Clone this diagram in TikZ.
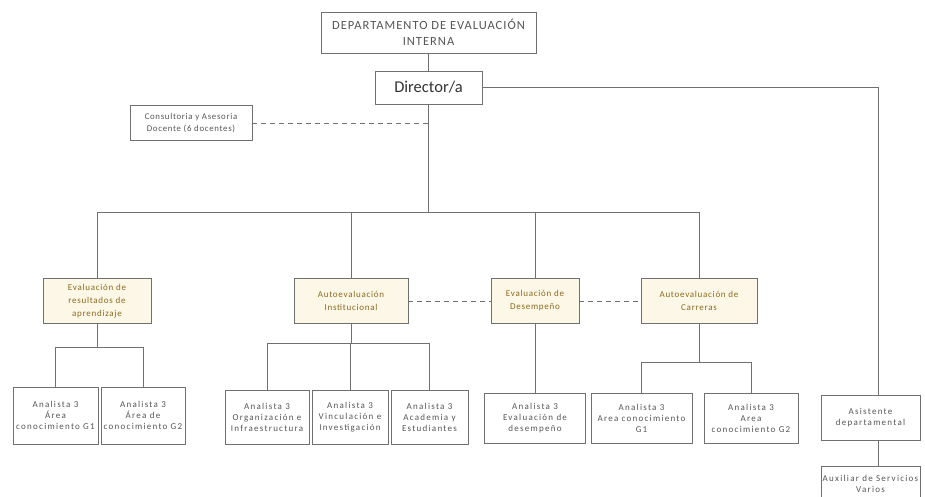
\documentclass[tikz,border=0pt]{standalone}
\usepackage{fontspec}
\setmainfont{Carlito}
\newfontfamily\scanfont[LetterSpace=8]{Carlito}
\newfontfamily\widefont[LetterSpace=14]{Carlito}
\usetikzlibrary{positioning}
\definecolor{linegray}{HTML}{707070}
\definecolor{boxtext}{HTML}{555555}
\definecolor{cream}{HTML}{FCF7E6}
\definecolor{unitbrown}{HTML}{8C6A1C}
\tikzstyle{box}=[rectangle,draw=linegray,line width=0.8pt,align=center,inner sep=1pt,text=boxtext,font=\widefont\fontsize{9}{11}\selectfont]
\tikzstyle{unitbox}=[box,fill=cream,text=unitbrown,minimum height=45,font=\scanfont\fontsize{9}{13}\selectfont]
\tikzstyle{edge} = [draw=linegray,line width=0.8pt]
\tikzstyle{dashededge} = [edge,dash pattern=on 5pt off 4pt]

\begin{document}
\begin{tikzpicture}[x=1pt,y=-1pt]
    \useasboundingbox (0,0) rectangle (925,497);

    \node[box,minimum width=215,minimum height=41,font=\scanfont\fontsize{12.5}{15.5}\selectfont] (dept) at (428.5,32.5) {DEPARTAMENTO DE EVALUACIÓN\\INTERNA};
    \node[box,minimum width=107,minimum height=33,text=black!80,font=\fontsize{16.5}{19}\selectfont] (director) at (428.5,87.5) {Director/a};
    \node[box,minimum width=122,minimum height=35,font=\scanfont\fontsize{8.8}{11.5}\selectfont] (consult) at (191,123) {Consultoria y Asesoria\\Docente (6 docentes)};

    \foreach \pos/\name/\w/\txt in {{(97,301)/evres/108/Evaluación de\\resultados de\\aprendizaje}, {(351,301)/autoinst/114/Autoevaluación\\Institucional}, {(535,301)/evdes/88/Evaluación de\\Desempeño}, {(699,301)/autocar/116/Autoevaluación de\\Carreras}}
        \node[unitbox,minimum width=\w] (\name) at \pos {\txt};

    \foreach \pos/\name/\w/\h/\txt in {{(55.5,415.5)/b1/85/57/Analista 3\\Área\\conocimiento G1}, {(143,415.5)/b2/84/57/Analista 3\\Área de\\conocimiento G2}, {(267,417)/c1/84/54/Analista 3\\Organización e\\Infraestructura}, {(350,417)/c2/76/54/Analista 3\\Vinculación e\\Investigación}, {(429.5,417)/c3/77/54/Analista 3\\Academia y\\Estudiantes}, {(535,418)/d1/101/50/Analista 3\\Evaluación de\\desempeño}, {(641.5,418)/f1/101/50/Analista 3\\Area conocimiento\\G1}, {(751,418)/f2/94/50/Analista 3\\Area\\conocimiento G2}, {(870.5,417.5)/asist/99/45/Asistente\\departamental}, {(870.5,484)/aux/99/36/Auxiliar de Servicios\\Varios}}
        \node[box,minimum width=\w,minimum height=\h] (\name) at \pos {\txt};

    \coordinate (mainbus) at (428.5,212);
    \coordinate (evresbus) at (97,347);
    \coordinate (autoinstbus) at (351,343);
    \coordinate (autocarbus) at (699,362);

    \path[edge] (dept) -- (director);
    \path[edge] (director) -- (mainbus);
    \path[dashededge] (consult) -- (consult -| director);
    \path[edge] (director) -| ([xshift=7.5]asist.north);
    \path[edge] ([xshift=7.5]asist.south) -- ([xshift=7.5]aux.north);

    \foreach \dest in {evres,autoinst,evdes,autocar}
        \path[edge] (mainbus) -| (\dest);

    \foreach \source/ \dest in {autoinst/evdes, evdes/autocar}
        \path[dashededge] (\source) -- (\dest);

    \foreach \source/ \bus in {evres/evresbus, autoinst/autoinstbus, autocar/autocarbus}
        \path[edge] (\source) -- (\bus);

    \foreach \bus/ \dest in {evresbus/b1, evresbus/b2, autoinstbus/c1, autoinstbus/c2, autoinstbus/c3, autocarbus/f1, autocarbus/f2}
        \path[edge] (\bus) -| (\dest);

    \path[edge] (evdes) -- (d1);
\end{tikzpicture}
\end{document}
